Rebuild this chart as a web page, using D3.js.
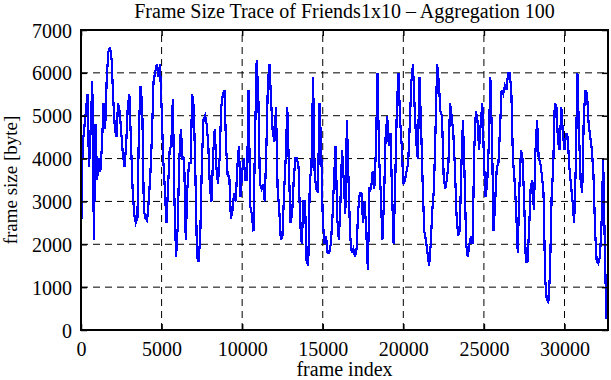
<!DOCTYPE html>
<html>
<head>
<meta charset="utf-8">
<script src="https://cdn.jsdelivr.net/npm/d3@7"></script>
<style>
  body { margin: 0; background: #fff; }
  text { font-family: "Liberation Serif", "Times New Roman", serif; fill: #000; }
</style>
</head>
<body>
<div id="chart"></div>
<script>
// frame size trace, one value per 100 frames (aggregation 100)
var aggStep = 100;
var frameSize = [
  2000, 4300, 4700, 5100, 5500, 3800, 4700, 5800, 2100, 4800,
  3500, 4000, 3700, 4300, 5300, 4700, 5900, 6500, 6600, 6300,
  5400, 4700, 4500, 5300, 5100, 4600, 4100, 3800, 4300, 5200,
  5500, 4400, 3300, 2700, 2500, 2600, 4800, 5700, 5200, 2800,
  2600, 2550, 3000, 3600, 4500, 5800, 6000, 6200, 5900, 6200,
  5200, 4000, 3300, 2500, 3300, 4200, 4300, 5400, 3000, 1700,
  2400, 4000, 4700, 4000, 4000, 2100, 3300, 3900, 3900, 5500,
  5200, 3600, 1700, 1600, 2200, 3900, 4900, 5000, 4800, 4300,
  3300, 3000, 4100, 4700, 3800, 3400, 4000, 5200, 5500, 5600,
  4300, 3600, 3600, 2600, 2800, 3200, 3000, 3800, 4300, 3100,
  3700, 4000, 3500, 3500, 5600, 2900, 2700, 2300, 4500, 6300,
  5500, 3400, 3300, 3400, 3000, 4200, 5800, 6200, 5300, 4600,
  4400, 5200, 3300, 2800, 2100, 2200, 3200, 4000, 5200, 3800,
  2500, 2700, 3500, 4000, 4000, 3800, 2500, 2000, 3000, 3000,
  1600, 1500, 3500, 3800, 5900, 3600, 3300, 3200, 5300, 4300,
  2600, 2000, 2200, 1800, 1800, 2000, 2600, 3500, 4300, 2600,
  2100, 3000, 4200, 3500, 2700, 4900, 3500, 2200, 1800, 1900,
  1700, 1900, 2800, 3200, 3200, 2500, 3000, 2300, 1400, 3300,
  3300, 3700, 3300, 4200, 6000, 4000, 3200, 2100, 3000, 4500,
  5000, 4300, 4600, 3200, 2000, 3500, 5200, 6000, 4900, 4300,
  3400, 3500, 3700, 3900, 4800, 5800, 6200, 5200, 4400, 4000,
  5900, 4800, 3400, 2300, 2100, 1800, 1500, 2000, 2800, 3300,
  4700, 6200, 5800, 5100, 5000, 3600, 3300, 3500, 3900, 5300,
  5000, 4600, 3800, 2700, 2200, 2300, 3800, 4900, 3600, 2000,
  1700, 2000, 2200, 2000, 4200, 5100, 4900, 4200, 4800, 5300,
  4000, 3100, 3400, 4300, 5900, 4500, 2300, 3000, 3800, 3900,
  4700, 5600, 5500, 5700, 5600, 6000, 6000, 5600, 4000, 3500,
  2800, 1800, 3300, 4200, 4000, 3000, 1600, 1600, 2300, 3300,
  3500, 2800, 4200, 4900, 4000, 3900, 3600, 3200, 1200, 700,
  650, 1300, 3100, 3800, 5300, 5200, 4400, 4200, 5200, 4600,
  4200, 4600, 4500, 3800, 3400, 3000, 2500, 3800, 6000, 4600,
  3500, 3200, 5000, 5600, 5500, 4800, 4500, 4200, 3600, 2300,
  1600, 1550, 1700, 2500, 4000, 2000, 250
];
var xTicks = [0, 5000, 10000, 15000, 20000, 25000, 30000];
var yTicks = [0, 1000, 2000, 3000, 4000, 5000, 6000, 7000];
var xMax = 32700;
var yMax = 7000;

var width = 611, height = 380;
var margin = {top: 30, right: 3, bottom: 50, left: 81};

var svg = d3.select("#chart").append("svg")
    .attr("width", width)
    .attr("height", height);

var x = d3.scaleLinear().domain([0, xMax]).range([margin.left, width - margin.right]);
var y = d3.scaleLinear().domain([0, yMax]).range([height - margin.bottom, margin.top]);

// dashed grid
svg.append("g").selectAll("line.gx")
    .data(xTicks.filter(function(d) { return d > 0; }))
    .enter().append("line")
    .attr("x1", function(d) { return x(d); })
    .attr("x2", function(d) { return x(d); })
    .attr("y1", y(0))
    .attr("y2", y(yMax))
    .attr("stroke", "#000")
    .attr("stroke-width", 1)
    .attr("stroke-dasharray", "7,5");

svg.append("g").selectAll("line.gy")
    .data(yTicks.filter(function(d) { return d > 0 && d < yMax; }))
    .enter().append("line")
    .attr("x1", x(0))
    .attr("x2", x(xMax))
    .attr("y1", function(d) { return y(d); })
    .attr("y2", function(d) { return y(d); })
    .attr("stroke", "#000")
    .attr("stroke-width", 1)
    .attr("stroke-dasharray", "7,5");

// the trace
var line = d3.line()
    .x(function(d, i) { return x(i * aggStep); })
    .y(function(d) { return y(d); });

svg.append("path")
    .datum(frameSize)
    .attr("fill", "none")
    .attr("stroke", "#0000ff")
    .attr("stroke-width", 2.2)
    .attr("shape-rendering", "crispEdges")
    .attr("d", line);

// axes with inward ticks (mirrored on top/right)
var xAxis = svg.append("g")
    .attr("transform", "translate(0," + y(0) + ")")
    .call(d3.axisBottom(x).tickValues(xTicks).tickFormat(d3.format("d")).tickSize(-6).tickPadding(12));
var yAxis = svg.append("g")
    .attr("transform", "translate(" + x(0) + ",0)")
    .call(d3.axisLeft(y).tickValues(yTicks).tickFormat(d3.format("d")).tickSize(-6).tickPadding(9));
svg.append("g")
    .attr("transform", "translate(0," + y(yMax) + ")")
    .call(d3.axisTop(x).tickValues(xTicks).tickFormat("").tickSize(-6));
svg.append("g")
    .attr("transform", "translate(" + x(xMax) + ",0)")
    .call(d3.axisRight(y).tickValues(yTicks).tickFormat("").tickSize(-6));

svg.selectAll(".domain").remove();
svg.selectAll(".tick line").attr("stroke", "#000").attr("stroke-width", 1.5);
svg.selectAll(".tick text").style("font-family", "Liberation Serif").style("font-size", "20px").attr("fill", "#000");
yAxis.selectAll(".tick text").attr("dy", "0.35em");

// frame border
svg.append("rect")
    .attr("x", x(0))
    .attr("y", y(yMax))
    .attr("width", x(xMax) - x(0))
    .attr("height", y(0) - y(yMax))
    .attr("fill", "none")
    .attr("stroke", "#000")
    .attr("stroke-width", 2);

// labels
svg.append("text")
    .attr("x", (x(0) + x(xMax)) / 2)
    .attr("y", 18)
    .attr("text-anchor", "middle")
    .style("font-size", "20px")
    .text("Frame Size Trace of Friends1x10 \u2013 Aggregation 100");

svg.append("text")
    .attr("x", (x(0) + x(xMax)) / 2)
    .attr("y", 376)
    .attr("text-anchor", "middle")
    .style("font-size", "20px")
    .text("frame index");

svg.append("text")
    .attr("transform", "translate(17," + ((y(0) + y(yMax)) / 2) + ") rotate(-90)")
    .attr("text-anchor", "middle")
    .style("font-size", "19px")
    .text("frame size [byte]");
</script>
</body>
</html>
